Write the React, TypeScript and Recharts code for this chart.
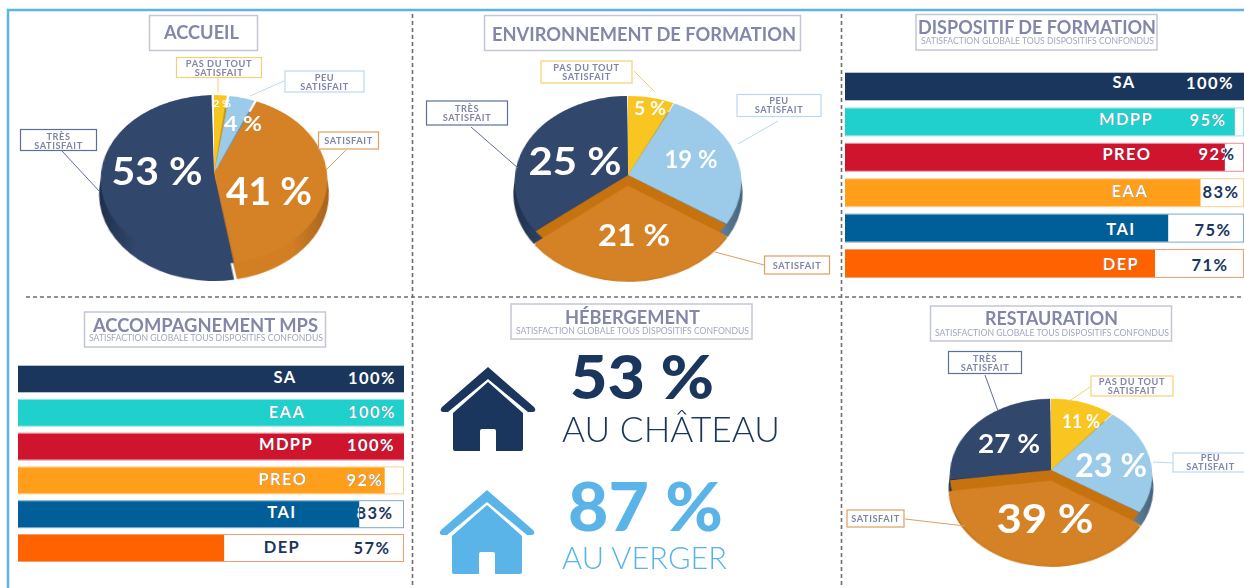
import { Bar, BarChart, Cell, Pie, PieChart, XAxis, YAxis } from "recharts";

// satisfaction levels, clockwise from twelve o'clock
const levels = ["Pas du tout satisfait", "Peu satisfait", "Satisfait", "Très satisfait"];
const accueilValues = [2, 4, 41, 53];
const environnementValues = [5, 19, 21, 25];
const restaurationValues = [11, 23, 39, 27];

const dispositifNames = ["SA", "MDPP", "PREO", "EAA", "TAI", "DEP"];
const dispositifPrinted = [100, 95, 92, 83, 75, 71];
// filled share of each track as measured: the source bars do not follow their printed numbers
const dispositifFill = [100, 97.7, 95.2, 89.1, 81, 77.7];

const accompagnementNames = ["SA", "EAA", "MDPP", "PREO", "TAI", "DEP"];
const accompagnementPrinted = [100, 100, 100, 92, 83, 57];
const accompagnementFill = [100, 100, 100, 95, 88.4, 53.4];

const hebergementValues = [53, 87];
const hebergementPlaces = ["AU CHÂTEAU", "AU VERGER"];

const SUBTITLE = "SATISFACTION GLOBALE TOUS DISPOSITIFS CONFONDUS";
const FONT = "Lato, 'Open Sans', sans-serif";
const TITLE_COLOR = "#8287a9";
const NAVY = "#1a365d";
const SKY = "#5ab4e8";

const TOP_COLORS = ["#f9c520", "#9bcbe9", "#d58226", "#31476b"];
const SIDE_COLORS = ["#b98f12", "#6f90aa", "#d27f24", "#31476b"];
const SIDE_EDGE_COLORS = ["#8a6a0c", "#46627a", "#a4631c", "#1e2e49"];
const BAND_COLOR = "#c6730f";
const ROW_COLORS = ["#1a365d", "#1fd0cc", "#cf152d", "#ff9e1b", "#005e99", "#ff6200"];
const ROW_BORDERS = ["#b6c0ce", "#9fe3e1", "#e98f9b", "#ffcf8d", "#7fa9c6", "#f0a070"];

const toSlices = (values: number[]) => values.map((value, i) => ({ name: levels[i], value }));

function PieBlock({ id, values, apexX, apexY, radius, tilt, depth, band, gap }: any) {
  const size = 2 * (radius + depth) + 10;
  const mid = size / 2;
  const slices = toSlices(values);
  return (
    <div
      style={{
        position: "absolute",
        left: apexX - mid,
        top: apexY - mid,
        width: size,
        height: size,
        transform: `perspective(960px) rotateX(${tilt}deg)`,
        transformOrigin: "50% 50%",
      }}
    >
      <PieChart width={size} height={size} margin={{ top: 0, right: 0, bottom: 0, left: 0 }}>
        <defs>
          {SIDE_COLORS.map((c, i) => (
            <linearGradient
              key={c}
              id={`${id}-side-${i}`}
              gradientUnits="userSpaceOnUse"
              x1={mid - radius}
              x2={mid + radius}
              y1={0}
              y2={0}
            >
              <stop offset="0" stopColor={SIDE_EDGE_COLORS[i]} />
              <stop offset="0.18" stopColor={c} />
              <stop offset="0.82" stopColor={c} />
              <stop offset="1" stopColor={SIDE_EDGE_COLORS[i]} />
            </linearGradient>
          ))}
        </defs>
        <Pie
          data={slices}
          dataKey="value"
          cx={mid}
          cy={mid + depth}
          outerRadius={radius}
          startAngle={90}
          endAngle={-270}
          paddingAngle={gap}
          stroke="none"
          isAnimationActive={false}
        >
          {slices.map((s, i) => (
            <Cell key={s.name} fill={`url(#${id}-side-${i})`} />
          ))}
        </Pie>
        <Pie
          data={slices}
          dataKey="value"
          cx={mid}
          cy={mid}
          outerRadius={radius}
          startAngle={90}
          endAngle={-270}
          paddingAngle={gap}
          stroke="none"
          isAnimationActive={false}
        >
          {slices.map((s, i) => (
            <Cell key={s.name} fill={i === 2 && band > 0 ? BAND_COLOR : TOP_COLORS[i]} />
          ))}
        </Pie>
        {band > 0 && (
          <Pie
            data={slices}
            dataKey="value"
            cx={mid}
            cy={mid + band}
            outerRadius={radius}
            startAngle={90}
            endAngle={-270}
            paddingAngle={gap}
            stroke="none"
            isAnimationActive={false}
          >
            {slices.map((s, i) => (
              <Cell key={s.name} fill={i === 2 ? TOP_COLORS[2] : "transparent"} />
            ))}
          </Pie>
        )}
      </PieChart>
    </div>
  );
}

function RateBars({ id, left, top, width, rowHeight, barSize, names, printed, fill, nameSpots, valueSpots }: any) {
  const rows = names.map((name: string, i: number) => ({ name, fill: fill[i], printed: printed[i] }));
  const rowShape = (props: any) => {
    const { x, y, width: w, height: h, index } = props;
    const clip = `${id}-clip-${index}`;
    const [nameX, nameY] = nameSpots[index];
    const [valueX, valueY] = valueSpots[index];
    const texts = (color: string, clipPath?: string) => (
      <g clipPath={clipPath} fill={color} fontFamily={FONT} fontWeight={700} fontSize={16.5} letterSpacing={1.4} textAnchor="middle" dominantBaseline="central">
        <text x={nameX - left} y={nameY - top}>{rows[index].name}</text>
        <text x={valueX - left} y={valueY - top}>{`${rows[index].printed}%`}</text>
      </g>
    );
    return (
      <g>
        <rect x={x + 0.5} y={y - 0.5} width={width - 1} height={h + 1} fill="#fff" stroke={ROW_BORDERS[index]} />
        <rect x={x} y={y} width={w} height={h} fill={ROW_COLORS[index]} />
        <clipPath id={clip}>
          <rect x={x} y={y} width={w} height={h} />
        </clipPath>
        {texts(NAVY)}
        {texts("#fff", `url(#${clip})`)}
      </g>
    );
  };
  return (
    <div style={{ position: "absolute", left, top }}>
      <BarChart
        width={width}
        height={rowHeight * names.length}
        data={rows}
        layout="vertical"
        margin={{ top: 0, right: 0, bottom: 0, left: 0 }}
      >
        <XAxis type="number" domain={[0, 100]} hide />
        <YAxis type="category" dataKey="name" hide />
        <Bar dataKey="fill" barSize={barSize} shape={rowShape} isAnimationActive={false} />
      </BarChart>
    </div>
  );
}

function TitleBox({ x, y, w, h, title, textX, textW, titleY, size, subX, subW, subY }: any) {
  return (
    <g fontFamily={FONT}>
      <rect x={x} y={y} width={w} height={h} fill="#fff" stroke="#c3c6d6" strokeWidth={1.5} />
      <text
        x={textX}
        y={titleY}
        fill={TITLE_COLOR}
        fontSize={size}
        fontWeight={700}
        dominantBaseline="central"
        textLength={textW}
        lengthAdjust="spacingAndGlyphs"
      >
        {title}
      </text>
      {subW && (
        <text
          x={subX}
          y={subY}
          fill="#a3a7c0"
          fontSize={9}
          dominantBaseline="central"
          textLength={subW}
          lengthAdjust="spacingAndGlyphs"
        >
          {SUBTITLE}
        </text>
      )}
    </g>
  );
}

function Callout({ box, lines, lineYs, stroke, leader }: any) {
  const [x, y, w, h] = box;
  return (
    <g>
      <line x1={leader[0]} y1={leader[1]} x2={leader[2]} y2={leader[3]} stroke={stroke} strokeWidth={1} />
      <rect x={x} y={y} width={w} height={h} fill="#fff" stroke={stroke} strokeWidth={1.2} />
      {lines.map((t: string, i: number) => (
        <text
          key={t}
          x={x + w / 2}
          y={lineYs[i]}
          fill="#7f85a8"
          fontFamily={FONT}
          fontWeight={700}
          fontSize={9.2}
          letterSpacing={0.6}
          textAnchor="middle"
          dominantBaseline="central"
        >
          {t}
        </text>
      ))}
    </g>
  );
}

function House({ cx, top, color }: any) {
  return (
    <g transform={`translate(${cx} ${top})`} fill={color}>
      <path d="M0,0 L46,40 Q49,44 45,45 L40,45 L0,12 L-40,45 L-45,45 Q-49,44 -46,40 Z" />
      <path d="M0,15 L35,46 L35,82 Q35,84 33,84 L8,84 L8,64 Q8,62 6,62 L-6,62 Q-8,62 -8,64 L-8,84 L-33,84 Q-35,84 -35,82 L-35,46 Z" />
    </g>
  );
}

const YELLOW_LINE = "#f5cf74";
const BLUE_LINE = "#bcd8ee";
const ORANGE_LINE = "#dd9f62";
const NAVY_LINE = "#5b7096";
const PAS = ["PAS DU TOUT", "SATISFAIT"];
const PEU = ["PEU", "SATISFAIT"];
const TRES = ["TRÈS", "SATISFAIT"];
const SAT = ["SATISFAIT"];

function percentText(value: number, x: number, y: number, size: number, length: number) {
  return (
    <text
      key={`${value}-${x}`}
      x={x}
      y={y}
      fill="#fff"
      fontFamily={FONT}
      fontWeight={700}
      fontSize={size}
      textAnchor="middle"
      dominantBaseline="central"
      textLength={length}
      lengthAdjust="spacingAndGlyphs"
    >
      {`${value} %`}
    </text>
  );
}

export default function App() {
  return (
    <div
      style={{
        position: "absolute",
        left: 0,
        top: 0,
        width: 1244,
        height: 588,
        overflow: "hidden",
        background: "#fff",
      }}
    >
      <PieBlock id="accueil" values={accueilValues} apexX={214} apexY={173} radius={113} tilt={42} depth={19} band={0} gap={1.3} />
      <PieBlock id="env" values={environnementValues} apexX={628} apexY={175} radius={113} tilt={41} depth={16} band={14} gap={0.5} />
      <PieBlock id="resto" values={restaurationValues} apexX={1051} apexY={470} radius={101} tilt={41} depth={17} band={14} gap={0.5} />

      <RateBars
        id="dispositif"
        left={845}
        top={69.3}
        width={399}
        rowHeight={35.4}
        barSize={27}
        names={dispositifNames}
        printed={dispositifPrinted}
        fill={dispositifFill}
        nameSpots={[[1124, 82], [1126, 119], [1127, 154], [1130, 191], [1121, 229], [1121, 264]]}
        valueSpots={[[1210, 83], [1208, 120], [1217, 154], [1221, 192], [1213, 230], [1210, 265]]}
      />
      <RateBars
        id="accompagnement"
        left={18}
        top={361.6}
        width={386}
        rowHeight={33.8}
        barSize={26}
        names={accompagnementNames}
        printed={accompagnementPrinted}
        fill={accompagnementFill}
        nameSpots={[[285, 377], [287, 412], [286, 444], [283, 479], [282, 512], [282, 547]]}
        valueSpots={[[372, 378], [372, 412], [371, 445], [365, 480], [375, 513], [372, 548]]}
      />

      <svg width={1244} height={588} style={{ position: "absolute", left: 0, top: 0, pointerEvents: "none" }}>
        <path d="M8,588 L8,10 L1244,10" fill="none" stroke={SKY} strokeWidth={2.5} />
        <g stroke="#6d6d6d" strokeWidth={1.6} strokeDasharray="4 3">
          <line x1={412.5} y1={14} x2={412.5} y2={588} />
          <line x1={841.5} y1={14} x2={841.5} y2={588} />
          <line x1={26} y1={297} x2={1244} y2={297} />
        </g>

        <TitleBox x={149.5} y={15.5} w={108} h={35} title="ACCUEIL" textX={164} textW={75} titleY={32} size={18} />
        <TitleBox x={484.5} y={15.5} w={316} h={35} title="ENVIRONNEMENT DE FORMATION" textX={492} textW={304} titleY={33} size={19} />
        <TitleBox x={916} y={14.5} w={241} h={35.5} title="DISPOSITIF DE FORMATION" textX={918} textW={238} titleY={26} size={19} subX={921} subW={233} subY={40} />
        <TitleBox x={84.5} y={312} w={241} h={35} title="ACCOMPAGNEMENT MPS" textX={93} textW={225} titleY={324} size={19} subX={89} subW={234} subY={337} />
        <TitleBox x={511} y={304} w={241} h={35} title="HÉBERGEMENT" textX={565} textW={135} titleY={317} size={18} subX={516} subW={233} subY={330} />
        <TitleBox x={930.5} y={306} w={241} h={35} title="RESTAURATION" textX={985} textW={133} titleY={318} size={18} subX={935} subW={234} subY={332} />

        {/* accueil */}
        <Callout box={[176.5, 57.5, 85, 20]} lines={PAS} lineYs={[63, 72]} stroke={YELLOW_LINE} leader={[218, 78, 218, 92]} />
        <Callout box={[285, 71, 79, 21]} lines={PEU} lineYs={[77, 86]} stroke={BLUE_LINE} leader={[284, 81, 250, 96]} />
        <Callout box={[318.5, 132, 60, 17]} lines={SAT} lineYs={[140.5]} stroke={ORANGE_LINE} leader={[346, 150, 326, 170]} />
        <Callout box={[20.5, 129.5, 76, 21]} lines={TRES} lineYs={[136, 145]} stroke={NAVY_LINE} leader={[62, 151, 100, 192]} />
        {percentText(accueilValues[3], 157, 170, 38, 91)}
        {percentText(accueilValues[2], 269, 190, 38, 86)}
        {percentText(accueilValues[1], 243, 122, 21, 38)}
        {percentText(accueilValues[0], 222, 103, 10, 18)}

        {/* environnement */}
        <Callout box={[541, 61, 91, 22]} lines={PAS} lineYs={[67, 76]} stroke={YELLOW_LINE} leader={[634, 71, 655, 92]} />
        <Callout box={[737, 94.5, 84, 22]} lines={PEU} lineYs={[100, 109]} stroke={BLUE_LINE} leader={[778, 121, 738, 144]} />
        <Callout box={[764.5, 256, 65, 18]} lines={SAT} lineYs={[265]} stroke={ORANGE_LINE} leader={[764, 265, 715, 252]} />
        <Callout box={[426.5, 101, 81, 24]} lines={TRES} lineYs={[108, 117]} stroke={NAVY_LINE} leader={[471, 127, 518, 168]} />
        {percentText(environnementValues[3], 575, 160, 38, 93)}
        {percentText(environnementValues[1], 691, 158, 24, 53)}
        {percentText(environnementValues[2], 634, 234, 30, 72)}
        {percentText(environnementValues[0], 650, 108, 18, 32)}

        {/* restauration */}
        <Callout box={[948.5, 351.5, 73, 22]} lines={TRES} lineYs={[358, 367]} stroke={NAVY_LINE} leader={[985, 375, 998, 411]} />
        <Callout box={[1091, 376, 82, 20]} lines={PAS} lineYs={[381, 390]} stroke={YELLOW_LINE} leader={[1090, 387, 1068, 402]} />
        <Callout box={[1173, 453, 75, 19]} lines={PEU} lineYs={[457.5, 466]} stroke={BLUE_LINE} leader={[1173, 463, 1153, 462]} />
        <Callout box={[847, 510, 57, 17]} lines={SAT} lineYs={[518.5]} stroke={ORANGE_LINE} leader={[905, 519, 965, 526]} />
        {percentText(restaurationValues[3], 1009, 442, 27, 62)}
        {percentText(restaurationValues[0], 1081, 421, 18, 38)}
        {percentText(restaurationValues[1], 1111, 464, 33, 72)}
        {percentText(restaurationValues[2], 1045, 518, 40, 97)}

        {/* hebergement */}
        <House cx={488} top={367} color={NAVY} />
        <House cx={487} top={490} color={SKY} />
        <text x={570} y={399} fill={NAVY} fontFamily={FONT} fontWeight={900} fontSize={61} textLength={144} lengthAdjust="spacingAndGlyphs">
          {`${hebergementValues[0]} %`}
        </text>
        <text x={562} y={442} fill={NAVY} fontFamily={FONT} fontWeight={300} fontSize={36} textLength={218} lengthAdjust="spacingAndGlyphs">
          {hebergementPlaces[0]}
        </text>
        <text x={568} y={531} fill={SKY} fontFamily={FONT} fontWeight={900} fontSize={66} textLength={155} lengthAdjust="spacingAndGlyphs">
          {`${hebergementValues[1]} %`}
        </text>
        <text x={562} y={569} fill={SKY} fontFamily={FONT} fontWeight={300} fontSize={31} textLength={165} lengthAdjust="spacingAndGlyphs">
          {hebergementPlaces[1]}
        </text>
      </svg>
    </div>
  );
}
